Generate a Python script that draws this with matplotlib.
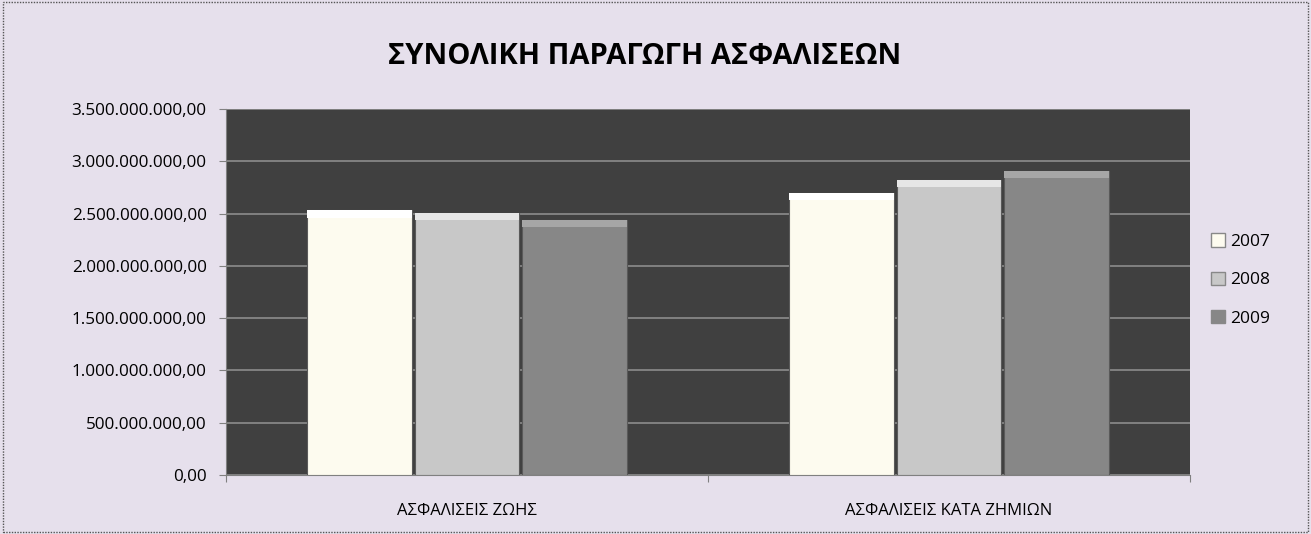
import numpy as np
import matplotlib
matplotlib.use('Agg')
from matplotlib import pyplot as plt
from matplotlib.patches import Rectangle

plt.rcParams['font.family'] = ['Open Sans', 'DejaVu Sans']

categories = ['ΑΣΦΑΛΙΣΕΙΣ ΖΩΗΣ', 'ΑΣΦΑΛΙΣΕΙΣ ΚΑΤΑ ΖΗΜΙΩΝ']
years = ['2007', '2008', '2009']
values_2007 = [2.53e9, 2.70e9]
values_2008 = [2.505e9, 2.82e9]
values_2009 = [2.44e9, 2.91e9]
y_ticks = [0, 0.5e9, 1.0e9, 1.5e9, 2.0e9, 2.5e9, 3.0e9, 3.5e9]

colors = ['#FDFBEF', '#C8C8C8', '#878787']
tops = ['#FFFFFF', '#E6E6E6', '#A6A6A6']


def fmt(v):
    # 3.500.000.000,00 style
    s = f'{v:,.2f}'
    return s.replace(',', 'X').replace('.', ',').replace('X', '.')


fig = plt.figure(figsize=(13.11, 5.34), dpi=100)
fig.patch.set_facecolor('#E6E0EC')

# dotted border round the chart
fig.add_artist(Rectangle((0.002, 0.004), 0.996, 0.992, transform=fig.transFigure,
                         fill=False, edgecolor='#555555', linestyle=(0, (1, 1)), linewidth=1))

ax = fig.add_axes([226 / 1311, 1 - 475 / 534, 964 / 1311, 366 / 534])
ax.set_facecolor('#404040')

x = np.arange(len(categories))
w = 1 / 4.5
series = [values_2007, values_2008, values_2009]
for i, vals in enumerate(series):
    xs = x + (i - 1) * w
    ax.bar(xs, vals, width=w * 0.98, color=colors[i], edgecolor='#5a5a5a',
           linewidth=0.8, label=years[i], zorder=3)
    # bevel highlight on top of bars
    ax.bar(xs, [0.07e9] * len(vals), bottom=np.array(vals) - 0.07e9, width=w * 0.98,
           color=tops[i], edgecolor='none', zorder=4)

ax.set_xlim(-0.5, 1.5)
ax.set_ylim(0, 3.5e9)
ax.set_yticks(y_ticks)
ax.set_yticklabels([fmt(v) for v in y_ticks], fontsize=12.3)
ax.yaxis.grid(True, color='#8C8C8C', linewidth=1.2, zorder=0)
ax.set_axisbelow(True)

ax.set_xticks([-0.5, 0.5, 1.5])
ax.set_xticklabels([])
ax.set_xticks(x, minor=True)
ax.set_xticklabels(categories, minor=True, fontsize=12)
ax.tick_params(axis='x', which='minor', length=0, pad=20)
ax.tick_params(axis='x', which='major', length=5, color='#808080', direction='out')
ax.tick_params(axis='y', length=5, color='#808080', pad=9)
for s in ['top', 'right']:
    ax.spines[s].set_visible(False)
ax.spines['left'].set_color('#808080')
ax.spines['bottom'].set_color('#808080')

fig.text(0.492, 1 - 57 / 534, 'ΣΥΝΟΛΙΚΗ ΠΑΡΑΓΩΓΗ ΑΣΦΑΛΙΣΕΩΝ', ha='center', va='center',
         fontsize=21, fontweight='bold')

handles = [Rectangle((0, 0), 1, 1, facecolor=c, edgecolor='#888888') for c in colors]
fig.legend(handles, years, loc='center left', bbox_to_anchor=(1195 / 1311, 1 - 280 / 534),
           frameon=False, fontsize=12.5, handlelength=0.8, handleheight=0.8,
           handletextpad=0.3, labelspacing=1.25)

fig.savefig('out.png', dpi=100, facecolor=fig.get_facecolor())
